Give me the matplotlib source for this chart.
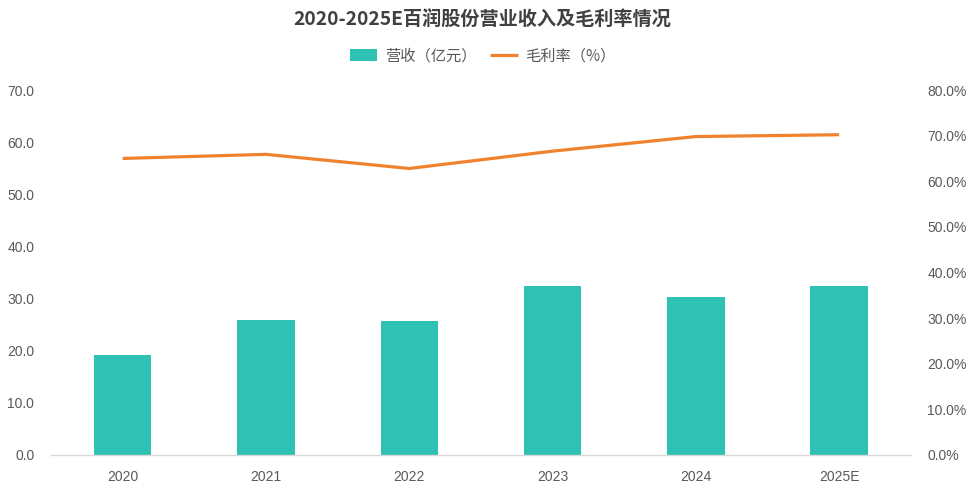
import matplotlib
matplotlib.use('Agg')
import matplotlib.pyplot as plt
from matplotlib.ticker import FuncFormatter, MultipleLocator

plt.rcParams['font.family'] = ['Noto Sans CJK SC', 'DejaVu Sans']

years = ['2020', '2021', '2022', '2023', '2024', '2025E']
revenue = [19.2, 25.9, 25.7, 32.4, 30.3, 32.4]      # 营收（亿元）
gross_margin = [65.0, 65.9, 62.8, 66.6, 69.8, 70.2]  # 毛利率（%）

teal = '#2EC1B4'
orange = '#F0822E'
gray = '#595959'

fig = plt.figure(figsize=(9.71, 4.96), dpi=100)
ax = fig.add_axes([0.0525, 0.0827, 0.8855, 0.7358])
ax2 = ax.twinx()

x = list(range(len(years)))
ax.bar(x, revenue, width=0.4, color=teal, label='营收（亿元）', zorder=2)
ax2.plot(x, gross_margin, color=orange, lw=2.3, label='毛利率（%）',
         solid_capstyle='butt', zorder=3)

ax.set_xlim(-0.5, len(years) - 0.5)
ax.set_ylim(0, 70)
ax2.set_ylim(0, 80)
ax.yaxis.set_major_locator(MultipleLocator(10))
ax2.yaxis.set_major_locator(MultipleLocator(10))
ax.yaxis.set_major_formatter(FuncFormatter(lambda v, p: f'{v:.1f}'))
ax2.yaxis.set_major_formatter(FuncFormatter(lambda v, p: f'{v:.1f}%'))

ax.set_xticks(x)
ax.set_xticklabels(years)

for a in (ax, ax2):
    for s in a.spines.values():
        s.set_visible(False)
    a.tick_params(length=0, colors=gray, labelsize=10)
    for lab in a.get_xticklabels() + a.get_yticklabels():
        lab.set_family(['Liberation Sans', 'DejaVu Sans'])
ax.spines['bottom'].set_visible(True)
ax.spines['bottom'].set_color('#D9D9D9')
ax.spines['bottom'].set_linewidth(1.0)
ax.tick_params(axis='x', pad=11)
ax.tick_params(axis='y', pad=12)
ax2.tick_params(axis='y', pad=12)

fig.text(0.497, 1 - 20 / 496, '2020-2025E百润股份营业收入及毛利率情况',
         ha='center', va='center', fontsize=13.8, fontweight='bold', color='#404040')

h1, l1 = ax.get_legend_handles_labels()
h2, l2 = ax2.get_legend_handles_labels()
leg = fig.legend(h1 + h2, l1 + l2, loc='center', bbox_to_anchor=(0.497, 1 - 56 / 496),
                 ncol=2, frameon=False, fontsize=11, handlelength=1.8,
                 handleheight=0.8, columnspacing=0.9, handletextpad=0.5)
for t in leg.get_texts():
    t.set_color(gray)

fig.savefig('out.png', dpi=100, facecolor='white')
